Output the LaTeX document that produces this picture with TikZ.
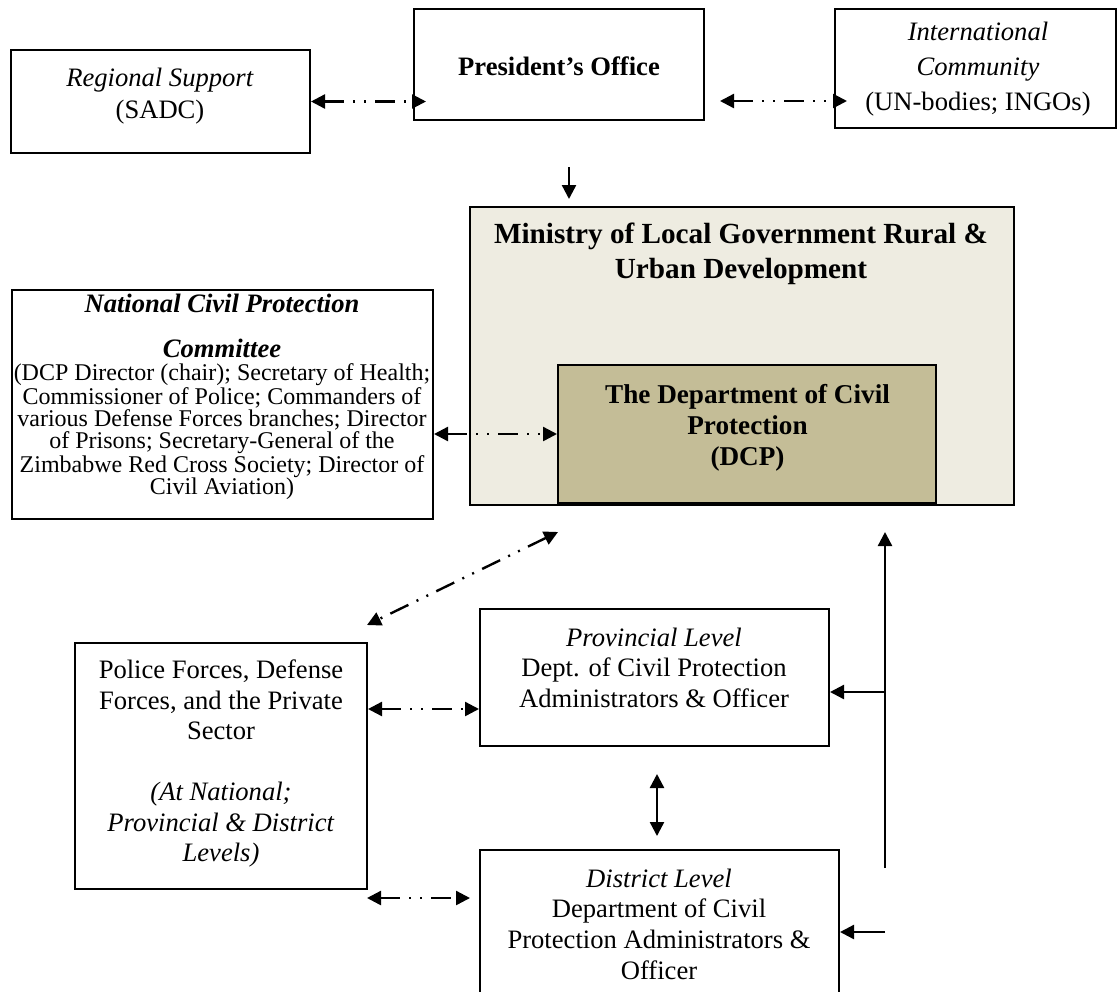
\documentclass[tikz,border=0pt]{standalone}
\usepackage{fontspec}
\setmainfont{Liberation Serif}
\usetikzlibrary{arrows.meta,calc}
\definecolor{minfill}{HTML}{EEECE1}
\definecolor{dcpfill}{HTML}{C4BD97}
\tikzset{
  box/.style={draw=black, line width=1pt, inner sep=0pt, rectangle},
  txt/.style={align=center, inner sep=0pt, font=\fontsize{13.3}{16}\selectfont},
  ddarrow/.style={line width=1.2pt, {Triangle[length=7pt,width=7pt]}-{Triangle[length=7pt,width=7pt]},
    dash pattern=on 10pt off 4.5pt on 1pt off 4.5pt on 1pt off 4.5pt},
  solidarrow/.style={line width=1.2pt, -{Triangle[length=7pt,width=7pt]}},
  solidboth/.style={line width=1.2pt, {Triangle[length=7pt,width=7pt]}-{Triangle[length=7pt,width=7pt]}},
}
\begin{document}
\begin{tikzpicture}[x=0.5pt,y=-0.5pt]
\clip (0,0) rectangle (1118,991);
\fill[white] (0,0) rectangle (1118,991);

% boxes
\node[box, minimum width=149.5pt, minimum height=51.5pt] (reg) at (160.5,101.5) {};
\node[box, minimum width=145pt, minimum height=55.5pt] (pres) at (559,64.5) {};
\node[box, minimum width=140.5pt, minimum height=59.5pt] (intl) at (975.5,68.5) {};
\node[box, fill=minfill, minimum width=272pt, minimum height=149pt] (mini) at (742,356) {};
\node[box, fill=dcpfill, minimum width=189pt, minimum height=69pt] (dcp) at (747,434) {};
\node[box, minimum width=210.5pt, minimum height=114.5pt] (comm) at (222.5,404.5) {};
\node[box, minimum width=146.25pt, minimum height=123pt] (pol) at (220.75,766) {};
\node[box, minimum width=174.5pt, minimum height=68.5pt] (prov) at (654.5,677.5) {};
\node[box, minimum width=179.5pt, minimum height=77.5pt] (dist) at (659.5,927.5) {};

% texts
\node[txt] (tReg) at (160,96) {\textit{Regional Support}\\(SADC)};
\node[txt] (tPres) at (559,66) {\textbf{President’s Office}};
\node[txt, font=\fontsize{13.3}{17.5}\selectfont] (tIntl) at (978,69) {\textit{International}\\\textit{Community}\\(UN-bodies; INGOs)};
\node[txt, font=\fontsize{14.6}{17.5}\selectfont\bfseries] (tMini) at (741,254) {Ministry of Local Government Rural \&\\Urban Development};
\node[txt, font=\fontsize{13.6}{15.5}\selectfont\bfseries] (tDcp) at (747.5,428) {The Department of Civil\\Protection\\(DCP)};
\node[txt, font=\fontsize{13.3}{22.5}\selectfont\bfseries\itshape] (tCommT) at (222,325.5) {National Civil Protection\\Committee};
\node[txt, font=\fontsize{12}{11}\selectfont] (tCommB) at (222,432) {(DCP Director (chair); Secretary of Health;\\Commissioner of Police; Commanders of\\various Defense Forces branches; Director\\of Prisons; Secretary-General of the\\Zimbabwe Red Cross Society; Director of\\Civil Aviation)};
\node[txt, font=\fontsize{13.3}{15.25}\selectfont] (tPol) at (221,763.5) {Police Forces, Defense\\Forces, and the Private\\Sector\\[15.25pt]\textit{(At National;}\\\textit{Provincial \& District}\\\textit{Levels)}};
\node[txt, font=\fontsize{13.3}{15.25}\selectfont] (tProv) at (654,667.5) {\textit{Provincial Level}\\Dept. of Civil Protection\\Administrators \& Officer};
\node[txt, font=\fontsize{13.3}{15.35}\selectfont] (tDist) at (659,924) {\textit{District Level}\\Department of Civil\\Protection Administrators \&\\Officer};

% free ends
\coordinate (pi1) at (720,101);
\coordinate (pi2) at (847,101);
\coordinate (d1) at (569,167);
\coordinate (d2) at (569,199);
\coordinate (dg1) at (558,532);
\coordinate (dg2) at (367,625);
\coordinate (lw1) at (367,898);
\coordinate (lw2) at (470,898);
\coordinate (v1) at (657,774);
\coordinate (v2) at (657,836);
\coordinate (r1) at (885,868);
\coordinate (r2) at (885,532);
\coordinate (rb) at (885,692);
\coordinate (rd) at (885,932);

% connectors
\draw[ddarrow] (reg.east) -- ($(pres.west |- reg.east)+(13,0)$);
\draw[ddarrow] (pi1) -- (pi2);
\draw[solidarrow] (d1) -- (d2);
\draw[ddarrow] (comm.east |- dcp.west) -- (dcp.west);
\draw[ddarrow] (dg1) -- (dg2);
\draw[ddarrow] ($(pol.east)+(0,-57)$) -- ($(prov.west)+(0,31.5)$);
\draw[ddarrow] (lw1) -- (lw2);
\draw[solidboth] (v1) -- (v2);
\draw[solidarrow] (r1) -- (r2);
\draw[solidarrow] (rb) -- (rb -| prov.east);
\draw[solidarrow] (rd) -- (rd -| dist.east);
\end{tikzpicture}
\end{document}
